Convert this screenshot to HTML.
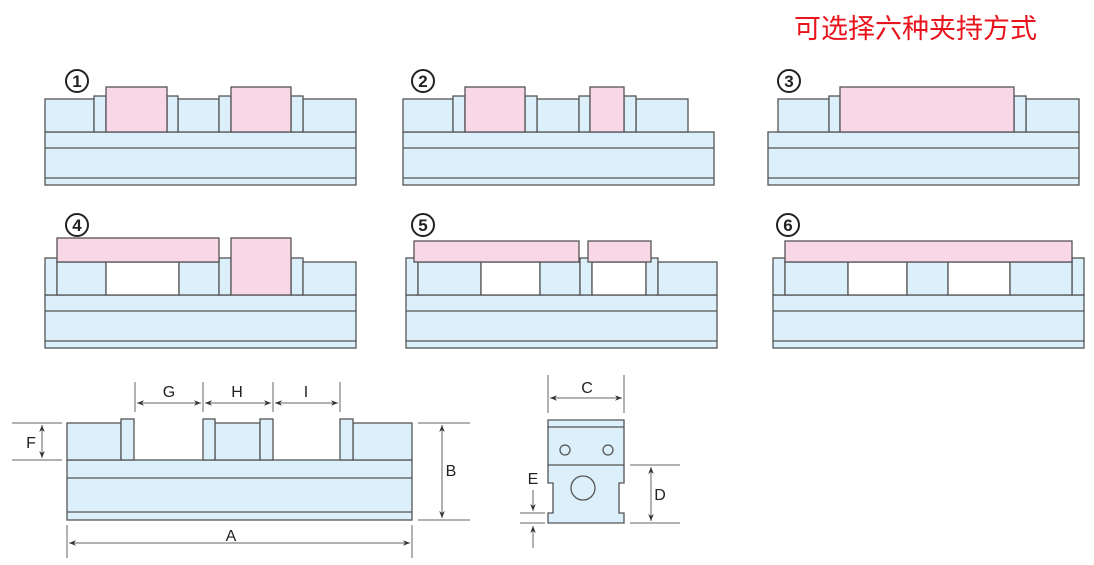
<!DOCTYPE html>
<html><head><meta charset="utf-8"><style>
html,body{margin:0;padding:0;background:#fff;width:1094px;height:565px;overflow:hidden}
svg{display:block}
text{font-family:"Liberation Sans",sans-serif;fill:#222}
</style></head><body>
<svg width="1094" height="565" viewBox="0 0 1094 565" xmlns="http://www.w3.org/2000/svg">
<defs>
<marker id="ar" viewBox="0 0 10 10" refX="10" refY="5" markerWidth="7" markerHeight="7" orient="auto-start-reverse"><path d="M0,1 L10,5 L0,9 L3,5 z" fill="#333"/></marker>
</defs>
<text x="794" y="38" style="font-family:'Liberation Sans','Noto Sans CJK SC',sans-serif;font-size:27px;fill:#e8141c">可选择六种夹持方式</text>

<g stroke="#555" stroke-width="1.3">
<g fill="#dcf0fb">
<rect x="45" y="132" width="311" height="53"/><line x1="45" y1="148" x2="356" y2="148"/><line x1="45" y1="178" x2="356" y2="178"/>
<rect x="45" y="99" width="49" height="33"/><rect x="178" y="99" width="41" height="33"/><rect x="303" y="99" width="53" height="33"/>
<rect x="94" y="96" width="12" height="36"/><rect x="167" y="96" width="11" height="36"/><rect x="219" y="96" width="12" height="36"/><rect x="291" y="96" width="12" height="36"/>
</g>
<g fill="#f9d7e6"><rect x="106" y="87" width="61" height="45"/><rect x="231" y="87" width="60" height="45"/></g>

<g fill="#dcf0fb">
<rect x="403" y="132" width="311" height="53"/><line x1="403" y1="148" x2="714" y2="148"/><line x1="403" y1="178" x2="714" y2="178"/>
<rect x="403" y="99" width="50" height="33"/><rect x="537" y="99" width="42" height="33"/><rect x="636" y="99" width="52" height="33"/>
<rect x="453" y="96" width="12" height="36"/><rect x="525" y="96" width="12" height="36"/><rect x="579" y="96" width="11" height="36"/><rect x="624" y="96" width="12" height="36"/>
</g>
<g fill="#f9d7e6"><rect x="465" y="87" width="60" height="45"/><rect x="590" y="87" width="34" height="45"/></g>

<g fill="#dcf0fb">
<rect x="768" y="132" width="311" height="53"/><line x1="768" y1="148" x2="1079" y2="148"/><line x1="768" y1="178" x2="1079" y2="178"/>
<rect x="778" y="99" width="51" height="33"/><rect x="1026" y="99" width="53" height="33"/>
<rect x="829" y="96" width="11" height="36"/><rect x="1014" y="96" width="12" height="36"/>
</g>
<g fill="#f9d7e6"><rect x="840" y="87" width="174" height="45"/></g>

<g fill="#dcf0fb">
<rect x="45" y="295" width="311" height="53"/><line x1="45" y1="311" x2="356" y2="311"/><line x1="45" y1="341" x2="356" y2="341"/>
<rect x="45" y="258" width="12" height="37"/>
<rect x="57" y="262" width="49" height="33"/><rect x="106" y="262" width="73" height="33" fill="#fff"/><rect x="179" y="262" width="40" height="33"/>
<rect x="219" y="258" width="12" height="37"/><rect x="291" y="258" width="12" height="37"/><rect x="303" y="262" width="53" height="33"/>
</g>
<g fill="#f9d7e6"><rect x="57" y="238" width="162" height="24"/><rect x="231" y="238" width="60" height="57"/></g>

<g fill="#dcf0fb">
<rect x="406" y="295" width="311" height="53"/><line x1="406" y1="311" x2="717" y2="311"/><line x1="406" y1="341" x2="717" y2="341"/>
<rect x="406" y="258" width="12" height="37"/>
<rect x="418" y="262" width="63" height="33"/><rect x="481" y="262" width="59" height="33" fill="#fff"/><rect x="540" y="262" width="40" height="33"/>
<rect x="580" y="258" width="12" height="37"/><rect x="592" y="262" width="54" height="33" fill="#fff"/><rect x="646" y="258" width="12" height="37"/><rect x="658" y="262" width="59" height="33"/>
</g>
<g fill="#f9d7e6"><rect x="414" y="241" width="165" height="21"/><rect x="588" y="241" width="63" height="21"/></g>

<g fill="#dcf0fb">
<rect x="773" y="295" width="311" height="53"/><line x1="773" y1="311" x2="1084" y2="311"/><line x1="773" y1="341" x2="1084" y2="341"/>
<rect x="773" y="258" width="12" height="37"/><rect x="1072" y="258" width="12" height="37"/>
<rect x="785" y="262" width="63" height="33"/><rect x="848" y="262" width="59" height="33" fill="#fff"/><rect x="907" y="262" width="41" height="33"/><rect x="948" y="262" width="62" height="33" fill="#fff"/><rect x="1010" y="262" width="62" height="33"/>
</g>
<g fill="#f9d7e6"><rect x="785" y="241" width="287" height="21"/></g>

<g fill="#dcf0fb">
<rect x="67" y="460" width="345" height="60"/><line x1="67" y1="478" x2="412" y2="478"/><line x1="67" y1="512" x2="412" y2="512"/>
<rect x="67" y="423" width="54" height="37"/><rect x="215" y="423" width="45" height="37"/><rect x="353" y="423" width="59" height="37"/>
<rect x="121" y="419" width="13" height="41"/><rect x="203" y="419" width="12" height="41"/><rect x="260" y="419" width="13" height="41"/><rect x="340" y="419" width="13" height="41"/>
</g>

<path d="M548,420 H624 V483 H619 V513 H624 V523 H548 V513 H553 V483 H548 Z" fill="#dcf0fb"/>
<line x1="548" y1="427" x2="624" y2="427"/><line x1="548" y1="465" x2="624" y2="465"/>
<circle cx="565" cy="450" r="5" fill="none"/><circle cx="608" cy="450" r="5" fill="none"/><circle cx="583" cy="488" r="12" fill="none"/>
</g>

<g fill="none" stroke="#222" stroke-width="2">
<circle cx="77" cy="81" r="11"/><circle cx="423" cy="81" r="11"/><circle cx="789" cy="81" r="11"/>
<circle cx="77" cy="225" r="11"/><circle cx="423" cy="225" r="11"/><circle cx="788" cy="225" r="11"/>
</g>
<g font-size="17" font-weight="600" text-anchor="middle">
<text x="77" y="87">1</text><text x="423" y="87">2</text><text x="789" y="87">3</text>
<text x="77" y="231">4</text><text x="423" y="231">5</text><text x="788" y="231">6</text>
</g>

<g stroke="#666" stroke-width="1" fill="none">
<line x1="135" y1="382" x2="135" y2="412"/><line x1="203" y1="382" x2="203" y2="412"/><line x1="273" y1="382" x2="273" y2="412"/><line x1="340" y1="382" x2="340" y2="412"/>
<line x1="137" y1="403" x2="201" y2="403" marker-start="url(#ar)" marker-end="url(#ar)"/>
<line x1="205" y1="403" x2="271" y2="403" marker-start="url(#ar)" marker-end="url(#ar)"/>
<line x1="275" y1="403" x2="338" y2="403" marker-start="url(#ar)" marker-end="url(#ar)"/>
<line x1="12" y1="423" x2="62" y2="423"/><line x1="12" y1="460" x2="62" y2="460"/>
<line x1="42" y1="425" x2="42" y2="458" marker-start="url(#ar)" marker-end="url(#ar)"/>
<line x1="418" y1="423" x2="470" y2="423"/><line x1="418" y1="520" x2="470" y2="520"/>
<line x1="442" y1="425" x2="442" y2="518" marker-start="url(#ar)" marker-end="url(#ar)"/>
<line x1="67" y1="525" x2="67" y2="558"/><line x1="412" y1="525" x2="412" y2="558"/>
<line x1="69" y1="543" x2="410" y2="543" marker-start="url(#ar)" marker-end="url(#ar)"/>
<line x1="548" y1="375" x2="548" y2="413"/><line x1="624" y1="375" x2="624" y2="413"/>
<line x1="550" y1="398" x2="622" y2="398" marker-start="url(#ar)" marker-end="url(#ar)"/>
<line x1="630" y1="465" x2="680" y2="465"/><line x1="630" y1="523" x2="680" y2="523"/>
<line x1="651" y1="467" x2="651" y2="521" marker-start="url(#ar)" marker-end="url(#ar)"/>
<line x1="520" y1="513" x2="545" y2="513"/><line x1="520" y1="523" x2="545" y2="523"/>
<line x1="533" y1="490" x2="533" y2="511" marker-end="url(#ar)"/>
<line x1="533" y1="548" x2="533" y2="526" marker-end="url(#ar)"/>
</g>
<g font-size="16" text-anchor="middle">
<text x="169" y="397">G</text><text x="237" y="397">H</text><text x="306" y="397">I</text>
<text x="31" y="448">F</text><text x="451" y="476">B</text><text x="231" y="541">A</text>
<text x="587" y="393">C</text><text x="660" y="500">D</text><text x="533" y="484">E</text>
</g>
</svg>
</body></html>
